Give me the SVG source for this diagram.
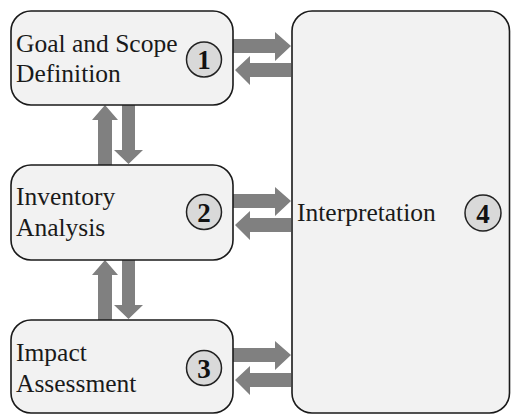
<svg xmlns="http://www.w3.org/2000/svg" width="511" height="416" viewBox="0 0 511 416">
<style>
.box{fill:#f2f2f2;stroke:#1a1a1a;stroke-width:1.6}
.num{fill:#d9d9d9;stroke:#222;stroke-width:1.5}
.t{font-size:25.5px;fill:#1a1a1a}
.n{font-size:27px;font-weight:bold;fill:#111;text-anchor:middle}
.ar{fill:#808080}
</style>
<rect width="511" height="416" fill="#ffffff"/>
<g id="connectors">
<polygon class="ar" points="233,39 275,39 275,32 291,46 275,61 275,53 233,53"/>
<polygon class="ar" points="291,63 250,63 250,56 235,70 250,85 250,77 291,77"/>
<polygon class="ar" points="233,194 275,194 275,187 291,201 275,216 275,208 233,208"/>
<polygon class="ar" points="291,218 250,218 250,211 235,225 250,240 250,232 291,232"/>
<polygon class="ar" points="233,348 275,348 275,341 291,355 275,370 275,362 233,362"/>
<polygon class="ar" points="291,373 250,373 250,366 235,380 250,395 250,387 291,387"/>
<polygon class="ar" points="98,165 98,120 92,120 105,105 118,120 112,120 112,165"/>
<polygon class="ar" points="122,105 122,150 114,150 128.5,164 143,150 135,150 135,105"/>
<polygon class="ar" points="98,320 98,275 92,275 105,260 118,275 112,275 112,320"/>
<polygon class="ar" points="122,260 122,305 114,305 128.5,319 143,305 135,305 135,260"/>
</g>
<g font-family="'Liberation Serif', 'Times New Roman', 'DejaVu Serif', serif">
<g id="node1">
<rect class="box" x="11" y="11" width="222" height="94" rx="20"/>
<text class="t" x="16" y="52">Goal and Scope</text>
<text class="t" x="16" y="82">Definition</text>
<circle class="num" cx="204" cy="59.5" r="17.5"/>
<text class="n" x="204" y="69">1</text>
</g>
<g id="node2">
<rect class="box" x="11" y="165" width="222" height="95" rx="20"/>
<text class="t" x="16" y="205">Inventory</text>
<text class="t" x="16" y="236">Analysis</text>
<circle class="num" cx="204" cy="212" r="17.5"/>
<text class="n" x="204" y="221.5">2</text>
</g>
<g id="node3">
<rect class="box" x="11" y="320" width="222" height="93" rx="20"/>
<text class="t" x="16" y="361">Impact</text>
<text class="t" x="16" y="392">Assessment</text>
<circle class="num" cx="204" cy="368" r="17.5"/>
<text class="n" x="204" y="377.5">3</text>
</g>
<g id="node4">
<rect class="box" x="292" y="11" width="217.5" height="402" rx="20"/>
<text class="t" x="297" y="221">Interpretation</text>
<circle class="num" cx="483" cy="213" r="18"/>
<text class="n" x="483" y="222.5">4</text>
</g>
</g>
</svg>
